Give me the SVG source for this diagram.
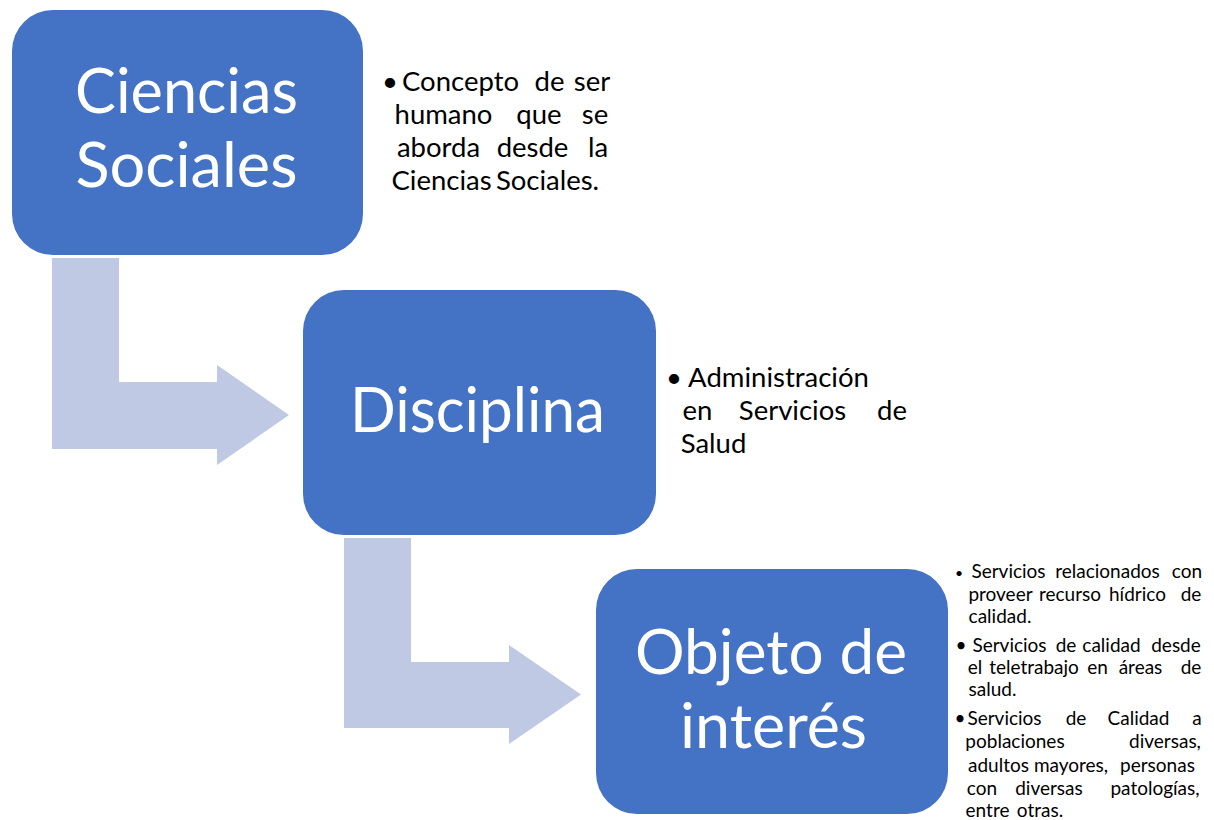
<svg xmlns="http://www.w3.org/2000/svg" width="1214" height="820" viewBox="0 0 1214 820">
<style>
.box{fill:#4472C4}
.arr{fill:#BFC9E4}
.big{font-family:Lato,"Liberation Sans",sans-serif;font-size:61px;fill:#FFFFFF;text-anchor:middle}
.t1{font-family:Lato,"Liberation Sans",sans-serif;font-size:27.5px;fill:#000000;text-anchor:middle}
.t3{font-family:Lato,"Liberation Sans",sans-serif;font-size:19px;fill:#000000;text-anchor:middle}
</style>
<rect width="1214" height="820" fill="#FFFFFF"/>
<g id="connectors">
  <path class="arr" d="M52,258 L119,258 L119,382 L217,382 L217,365 L289,415 L217,465 L217,449 L52,449 Z"/>
  <path class="arr" d="M344,538 L411,538 L411,662 L509,662 L509,645 L581,694.5 L509,744 L509,728 L344,728 Z"/>
</g>
<g id="node-ciencias">
  <rect class="box" x="12" y="10" width="351" height="245" rx="41" ry="41"/>
  <text class="big" x="186.5" y="113" textLength="223" lengthAdjust="spacingAndGlyphs">Ciencias</text>
  <text class="big" x="186.5" y="187" textLength="222" lengthAdjust="spacingAndGlyphs">Sociales</text>
</g>
<g id="node-disciplina">
  <rect class="box" x="303" y="290" width="353" height="245" rx="41" ry="41"/>
  <text class="big" x="477.5" y="432" textLength="255" lengthAdjust="spacingAndGlyphs">Disciplina</text>
</g>
<g id="node-objeto">
  <rect class="box" x="596" y="569" width="352" height="245" rx="41" ry="41"/>
  <text class="big" x="771" y="674" textLength="272" lengthAdjust="spacingAndGlyphs">Objeto de</text>
  <text class="big" x="773.5" y="748" textLength="187" lengthAdjust="spacingAndGlyphs">interés</text>
</g>
<g id="note-ciencias">
  <text class="t1" y="91"><tspan x="390">•</tspan><tspan x="460.5">Concepto</tspan><tspan x="549.5">de</tspan><tspan x="592">ser</tspan></text>
  <text class="t1" y="124"><tspan x="443.5">humano</tspan><tspan x="539">que</tspan><tspan x="595">se</tspan></text>
  <text class="t1" y="157"><tspan x="438.5">aborda</tspan><tspan x="532.5">desde</tspan><tspan x="598">la</tspan></text>
  <text class="t1" y="190"><tspan x="441.5">Ciencias</tspan><tspan x="547.5">Sociales.</tspan></text>
</g>
<g id="note-disciplina">
  <text class="t1" y="387"><tspan x="674">•</tspan><tspan x="778.5">Administración</tspan></text>
  <text class="t1" y="420"><tspan x="697.5">en</tspan><tspan x="792.5">Servicios</tspan><tspan x="892">de</tspan></text>
  <text class="t1" y="453"><tspan x="713.5">Salud</tspan></text>
</g>
<g id="note-objeto">
  <text class="t3" y="578"><tspan x="959" font-size="14">•</tspan><tspan x="1008.5">Servicios</tspan><tspan x="1107.5">relacionados</tspan><tspan x="1187">con</tspan></text>
  <text class="t3" y="601"><tspan x="1000.5">proveer</tspan><tspan x="1070">recurso</tspan><tspan x="1137.5">hídrico</tspan><tspan x="1191">de</tspan></text>
  <text class="t3" y="623"><tspan x="1000">calidad.</tspan></text>
  <text class="t3" y="652"><tspan x="961">•</tspan><tspan x="1009.5">Servicios</tspan><tspan x="1066">de</tspan><tspan x="1111.5">calidad</tspan><tspan x="1176">desde</tspan></text>
  <text class="t3" y="674"><tspan x="975">el</tspan><tspan x="1034">teletrabajo</tspan><tspan x="1097.5">en</tspan><tspan x="1140.5">áreas</tspan><tspan x="1191">de</tspan></text>
  <text class="t3" y="696"><tspan x="992.5">salud.</tspan></text>
  <text class="t3" y="725"><tspan x="960">•</tspan><tspan x="1004.5">Servicios</tspan><tspan x="1076">de</tspan><tspan x="1138.5">Calidad</tspan><tspan x="1197">a</tspan></text>
  <text class="t3" y="748"><tspan x="1015">poblaciones</tspan><tspan x="1165">diversas,</tspan></text>
  <text class="t3" y="772"><tspan x="998.5">adultos</tspan><tspan x="1071">mayores,</tspan><tspan x="1157.5">personas</tspan></text>
  <text class="t3" y="795"><tspan x="982">con</tspan><tspan x="1049">diversas</tspan><tspan x="1155">patologías,</tspan></text>
  <text class="t3" y="817"><tspan x="987.5">entre</tspan><tspan x="1040">otras.</tspan></text>
</g>
</svg>
